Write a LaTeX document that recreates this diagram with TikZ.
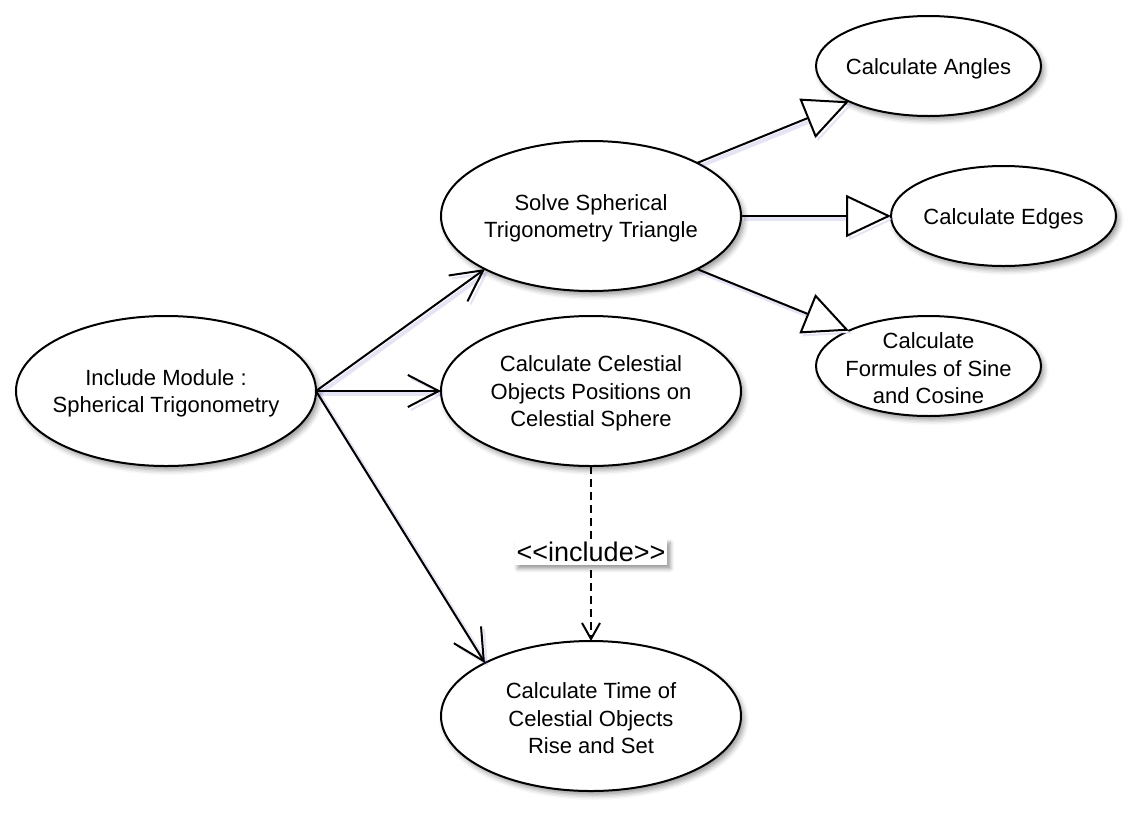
\documentclass[tikz,border=0pt]{standalone}
\usepackage{fontspec}
\setmainfont{Liberation Sans}
\usetikzlibrary{shapes.geometric,arrows.meta,shadows.blur}
\tikzset{
  uc/.style={ellipse, draw=black, line width=2pt, fill=white, inner sep=0pt, outer sep=0pt,
    minimum width=300pt, minimum height=150pt,
    blur shadow={shadow xshift=3pt, shadow yshift=-4pt, shadow opacity=40, shadow blur radius=5pt}},
  ucs/.style={uc, minimum width=225pt, minimum height=100pt},
  txt/.style={align=center, font=\fontsize{22}{27.5}\selectfont, inner sep=0pt, yshift=-2.5pt},
  lineshadow/.style={preaction={draw=blue!40!gray, draw opacity=0.15, line width=4pt, transform canvas={shift={(3pt,-3pt)}}}},
  assoc/.style={line width=2pt, lineshadow, -{Straight Barb[length=31pt, width=32pt, line width=2pt]}},
  gen/.style={line width=2pt, lineshadow, -{Triangle[open, length=45pt, width=42pt, line width=2pt, fill=white]}},
  incl/.style={line width=2pt, dash pattern=on 8pt off 5pt, -{Straight Barb[length=16pt, width=18pt, line width=2pt]}},
  stereo/.style={fill=white, font=\fontsize{27}{32}\selectfont, inner xsep=2pt, inner ysep=3pt,
    blur shadow={shadow xshift=3pt, shadow yshift=-4pt, shadow opacity=40, shadow blur radius=4pt}}
}
\begin{document}
\begin{tikzpicture}[x=1pt, y=-1pt]
\useasboundingbox (0,0) rectangle (1148,823);
\node[uc, label={[txt]center:Include Module :\\Spherical Trigonometry}] (inc) at (166,391) {};
\node[uc, label={[txt]center:Solve Spherical\\Trigonometry Triangle}] (solve) at (591,216) {};
\node[uc, label={[txt]center:Calculate Celestial\\Objects Positions on\\Celestial Sphere}] (cel) at (591,391) {};
\node[uc, label={[txt]center:Calculate Time of\\Celestial Objects\\Rise and Set}] (time) at (591,716) {};
\node[ucs, label={[txt]center:Calculate Angles}] (ang) at (928.5,66) {};
\node[ucs, label={[txt]center:Calculate Edges}] (edg) at (1003.5,216) {};
\node[ucs, label={[txt]center:Calculate\\Formules of Sine\\and Cosine}] (form) at (928.5,366) {};

\draw[assoc] (inc.east) -- (solve.south west);
\draw[assoc] (inc.east) -- (cel.west);
\draw[assoc] (inc.east) -- (time.north west);

\draw[gen] (solve.north east) -- (ang.south west);
\draw[gen] (solve.east) -- (edg.west);
\draw[gen] (solve.south east) -- (form.north west);

\draw[incl] (cel.south) -- (time.north) node[stereo, pos=0.49] (lbl) {<{}<include>{}>};
\end{tikzpicture}
\end{document}
